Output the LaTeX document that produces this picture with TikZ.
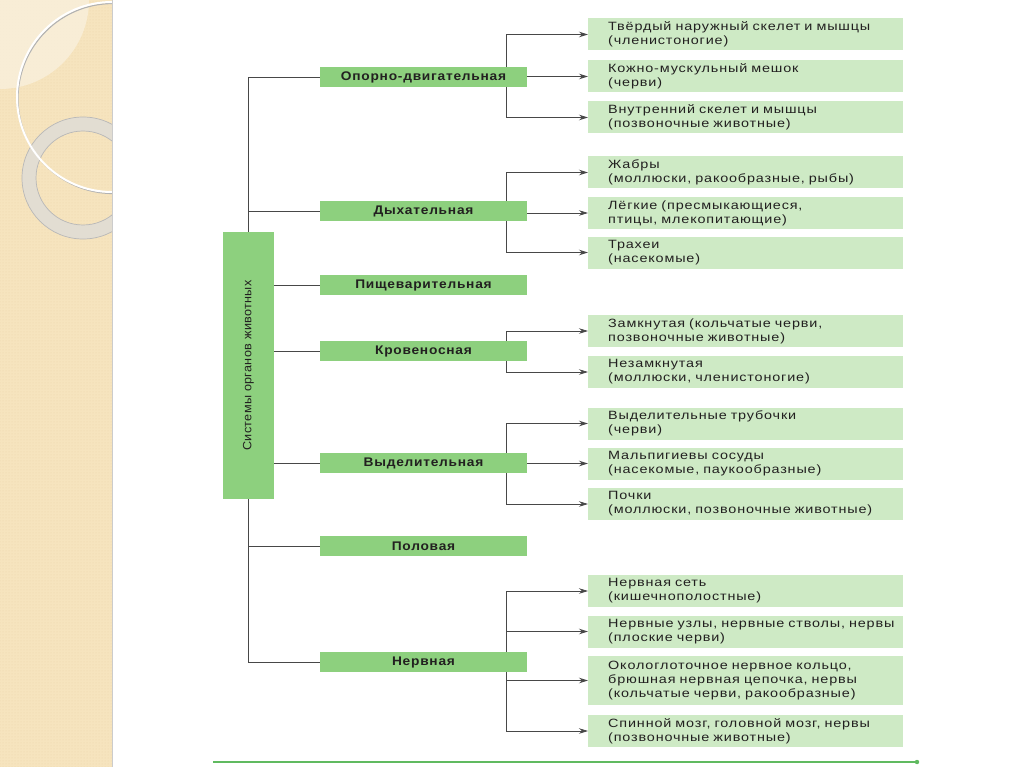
\documentclass[tikz,border=0pt]{standalone}
\usepackage{fontspec}
\usepackage{graphicx}
\setmainfont{Liberation Sans}
\newfontfamily\leaffont{Liberation Sans}[FakeStretch=1.2, LetterSpace=7]
\newfontfamily\sysfont{Liberation Sans}[FakeStretch=1.1, LetterSpace=6]
\newfontfamily\rootfont{Liberation Sans}[FakeStretch=1.05, LetterSpace=3]
\usepackage{tikz}
\usetikzlibrary{arrows.meta, positioning, backgrounds, patterns}
\definecolor{boxgreen}{RGB}{141,208,126}
\definecolor{leafgreen}{RGB}{206,234,197}
\definecolor{inkgray}{RGB}{34,32,32}
\definecolor{linegray}{RGB}{72,72,72}
\definecolor{bandbeige}{RGB}{246,228,190}
\definecolor{banddot}{RGB}{236,214,170}
\definecolor{bandlight}{RGB}{249,240,221}
\definecolor{ringgray}{RGB}{226,221,210}
\definecolor{rulegreen}{RGB}{96,186,96}

\begin{document}
\begin{tikzpicture}[
    x=1pt, y=-1pt,
    sysbox/.style={rectangle, fill=boxgreen, minimum width=207pt, minimum height=20pt, inner sep=0pt, text=inkgray, font=\sysfont\bfseries\fontsize{12.5}{14}\selectfont},
    leaf/.style={rectangle, fill=leafgreen, anchor=west, text width=275pt, inner xsep=20pt, inner ysep=0pt, align=left, text=inkgray, font=\leaffont\fontsize{12}{13.8}\selectfont},
    rootbox/.style={rectangle, fill=boxgreen, minimum width=51pt, minimum height=267pt, inner sep=0pt, text=inkgray, font=\rootfont\fontsize{12}{13}\selectfont},
    link/.style={draw=linegray, line width=0.8pt},
    arrow/.style={link, -{Stealth[length=9pt, width=5.5pt]}}
]
\useasboundingbox (0,0) rectangle (1024,767);

% slide background
\begin{scope}[on background layer]
\fill[white] (0,0) rectangle (1024,767);
\fill[bandbeige] (0,0) rectangle (112,767);
\fill[pattern=dots, pattern color=banddot] (0,0) rectangle (112,767);
\begin{scope}
\clip (0,0) rectangle (112,767);
\fill[bandlight, opacity=0.8] (0,0) circle (89);
\draw[ringgray, line width=14pt] (83,178) circle (54);
\draw[black!28, line width=0.7pt] (83,178) circle (61) (83,178) circle (47);
\draw[black!30, line width=1.2pt] (113,98.5) circle (95);
\draw[white, line width=2pt] (112,97) circle (95);
\end{scope}
\draw[black!20, line width=1pt] (112.5,0) -- (112.5,767);
\end{scope}

% root
\node[rootbox] (root) at (248.5,365.5) {\rotatebox{90}{Системы органов животных}};

% systems
\foreach \n/\y/\t in {op/77/Опорно-двигательная, dy/211/Дыхательная, pi/285/Пищеварительная,
    kr/351/Кровеносная, vy/463/Выделительная, po/546/Половая, ne/662/Нервная}
    \node[sysbox] (\n) at (423.5,\y) {\t};

% organs
\foreach \n/\y/\h/\t in {
    c1/34.5/32/{Твёрдый наружный скелет и мышцы\\(членистоногие)},
    c2/76.5/32/{Кожно-мускульный мешок\\(черви)},
    c3/117.5/32/{Внутренний скелет и мышцы\\(позвоночные животные)},
    c4/172.5/32/{Жабры\\(моллюски, ракообразные, рыбы)},
    c5/213/32/{Лёгкие (пресмыкающиеся,\\птицы, млекопитающие)},
    c6/252.5/32/{Трахеи\\(насекомые)},
    c7/331/32/{Замкнутая (кольчатые черви,\\позвоночные животные)},
    c8/372/32/{Незамкнутая\\(моллюски, членистоногие)},
    c9/423.5/32/{Выделительные трубочки\\(черви)},
    c10/463.5/32/{Мальпигиевы сосуды\\(насекомые, паукообразные)},
    c11/504/32/{Почки\\(моллюски, позвоночные животные)},
    c12/591/32/{Нервная сеть\\(кишечнополостные)},
    c13/631.5/32/{\mbox{Нервные узлы, нервные стволы, нервы}\\(плоские черви)},
    c14/680.5/49/{Окологлоточное нервное кольцо,\\брюшная нервная цепочка, нервы\\(кольчатые черви, ракообразные)},
    c15/731/32/{Спинной мозг, головной мозг, нервы\\(позвоночные животные)}}
    \node[leaf, minimum height=\h pt] (\n) at (588,\y) {\t};

% connectors
\begin{scope}[on background layer]
\draw[link] (root.north) |- (op.west);
\draw[link] (root.north |- dy.west) -- (dy.west);
\foreach \n in {pi,kr,vy}
    \draw[link] (root.east |- \n.west) -- (\n.west);
\draw[link] (root.south |- po.west) -- (po.west);
\draw[link] (root.south) |- (ne.west);

\foreach \n in {op,dy,kr,vy,ne}
    \coordinate (s\n) at ([xshift=-21pt]\n.east);
\foreach \n/\a/\b in {op/c1/c3, dy/c4/c6, kr/c7/c8, vy/c9/c11, ne/c12/c15}
    \draw[link] (s\n |- \a.west) -- (s\n |- \b.west);
\foreach \n/\c in {op/c1, op/c2, op/c3, dy/c4, dy/c5, dy/c6, kr/c7, kr/c8,
    vy/c9, vy/c10, vy/c11, ne/c12, ne/c13, ne/c14, ne/c15}
    \draw[arrow] (s\n |- \c.west) -- (\c.west);
\end{scope}

% bottom rule
\draw[rulegreen, line width=1.8pt] (213,762) -- (917,762);
\fill[rulegreen] (917,762) circle (2.2);
\end{tikzpicture}
\end{document}
